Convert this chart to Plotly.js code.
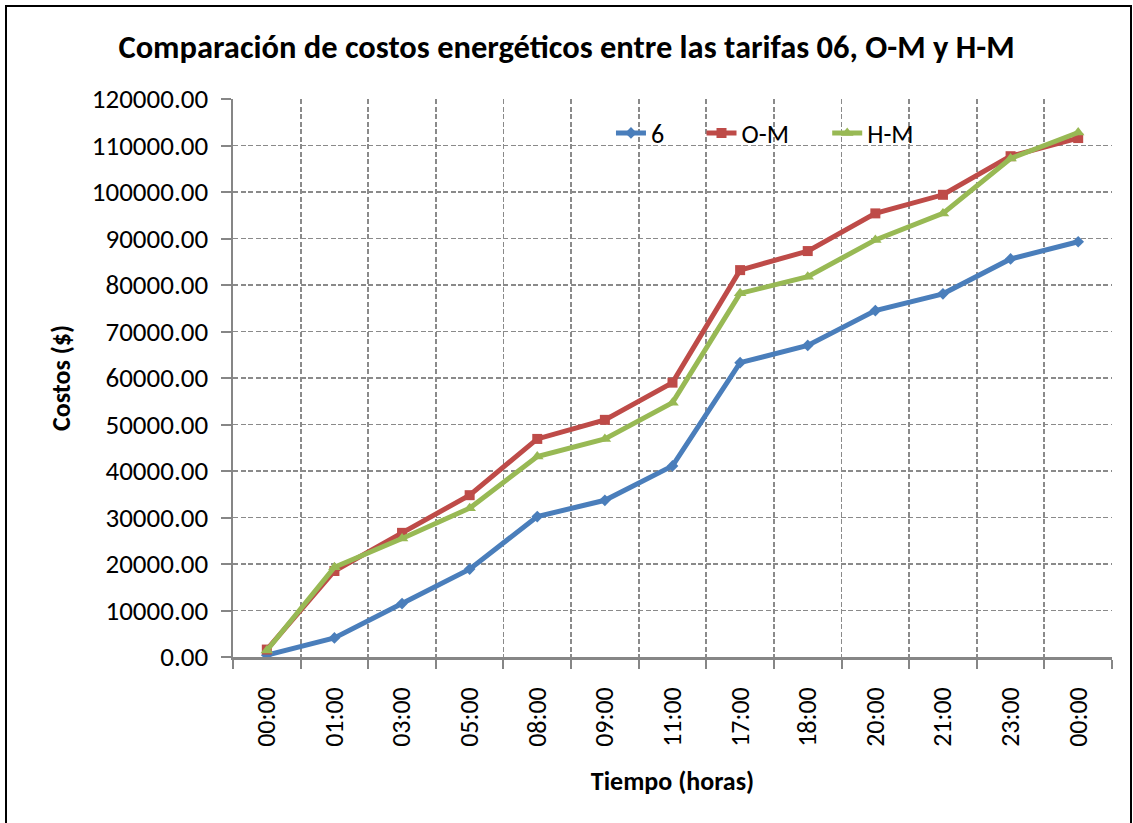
<!DOCTYPE html>
<html>
<head>
<meta charset="utf-8">
<script src="https://cdn.plot.ly/plotly-3.0.1.min.js"></script>
<style>
  html, body { margin: 0; padding: 0; background: #ffffff; }
  #wrap { position: relative; width: 1133px; height: 823px; overflow: hidden; }
  #chart { position: absolute; left: 0; top: 0; width: 1133px; height: 823px; }
  #frame { position: absolute; left: 5px; top: 5px; width: 1123px; height: 840px; border: 2px solid #000; pointer-events: none; }
</style>
</head>
<body>
<div id="wrap">
  <div id="chart"></div>
  <div id="frame"></div>
</div>
<script>
// Data
const categories = ["00:00", "01:00", "03:00", "05:00", "08:00", "09:00", "11:00", "17:00", "18:00", "20:00", "21:00", "23:00", "00:00"];
const tarifa06 = [400, 4100, 11500, 18900, 30200, 33700, 41100, 63300, 67000, 74500, 78100, 85600, 89300];
const tarifaOM = [1600, 18500, 26700, 34800, 46900, 51000, 59000, 83200, 87300, 95400, 99400, 107700, 111600];
const tarifaHM = [1400, 19300, 25500, 32000, 43100, 46900, 54700, 78200, 81800, 89700, 95400, 107200, 112800];
const seriesNames = ["6", "O-M", "H-M"];

const idx = categories.map((_, i) => i);
const boundaries = categories.map((_, i) => i - 0.5).concat([categories.length - 0.5]);

const FONT = "Carlito, Calibri, 'Liberation Sans Narrow', 'Liberation Sans', Arial, sans-serif";
const GRID = '#8a8a8a';
const AXIS = '#868686';

const traces = [
  { x: idx, y: tarifa06, name: seriesNames[0], legend: 'legend', type: 'scatter', mode: 'lines+markers',
    line: { color: '#4A7EBB', width: 5 }, marker: { symbol: 'diamond', size: 9, color: '#4A7EBB' } },
  { x: idx, y: tarifaOM, name: seriesNames[1], legend: 'legend2', type: 'scatter', mode: 'lines+markers',
    line: { color: '#BE4B48', width: 5 }, marker: { symbol: 'square', size: 10, color: '#BE4B48' } },
  { x: idx, y: tarifaHM, name: seriesNames[2], legend: 'legend3', type: 'scatter', mode: 'lines+markers',
    line: { color: '#98B954', width: 5 }, marker: { symbol: 'triangle-up', size: 11, color: '#98B954' } }
];

const legendBase = {
  orientation: 'h', xanchor: 'left', y: 0.939, yanchor: 'middle',
  bgcolor: 'rgba(0,0,0,0)', font: { family: FONT, size: 26, color: '#000' }
};

const layout = {
  width: 1133, height: 823,
  paper_bgcolor: '#ffffff', plot_bgcolor: '#ffffff',
  margin: { l: 233, r: 21, t: 99, b: 166 },
  font: { family: FONT, color: '#000000', size: 26 },
  title: { text: '<b>Comparación de costos energéticos entre las tarifas 06, O-M y H-M</b>',
           font: { family: FONT, size: 32.5, color: '#000' },
           x: 0.5, xref: 'container', xanchor: 'center', y: 0.943, yref: 'container', yanchor: 'middle' },
  xaxis: {
    range: [-0.5, categories.length - 0.5],
    tickmode: 'array', tickvals: boundaries, showticklabels: false,
    ticks: 'outside', ticklen: 9, tickcolor: AXIS, tickwidth: 2,
    showgrid: true, gridcolor: GRID, gridwidth: 1.8, griddash: '5px,2.5px',
    showline: true, linecolor: AXIS, linewidth: 2.5,
    zeroline: false, fixedrange: true
  },
  xaxis2: {
    overlaying: 'x', side: 'bottom', anchor: 'y',
    range: [-0.5, categories.length - 0.5],
    tickmode: 'array', tickvals: idx, ticktext: categories,
    tickangle: -90, ticks: '', ticklabelstandoff: 24, showgrid: false, showline: false, zeroline: false,
    tickfont: { family: FONT, size: 26, color: '#000' },
    title: { text: '<b>Tiempo (horas)</b>', font: { family: FONT, size: 26, color: '#000' }, standoff: 25 },
    automargin: false
  },
  yaxis: {
    range: [0, 120000], tickmode: 'linear', tick0: 0, dtick: 10000, tickformat: '.2f',
    ticks: 'outside', ticklen: 10, tickcolor: AXIS, tickwidth: 2, ticklabelstandoff: 7,
    showgrid: true, gridcolor: GRID, gridwidth: 1.8, griddash: '5px,2.5px',
    showline: true, linecolor: AXIS, linewidth: 2.5,
    zeroline: false, fixedrange: true,
    tickfont: { family: FONT, size: 27, color: '#000' },
    title: { text: '<b>Costos ($)</b>', font: { family: FONT, size: 26, color: '#000' }, standoff: 14 },
    automargin: false
  },
  showlegend: true,
  legend:  Object.assign({}, legendBase, { x: 0.4300 }),
  legend2: Object.assign({}, legendBase, { x: 0.5330 }),
  legend3: Object.assign({}, legendBase, { x: 0.6760 }),
  shapes: [
    // white legend box that hides the grid behind the legend entries
    { type: 'rect', xref: 'paper', yref: 'paper', x0: 0.3857, x1: 0.7895, y0: 0.896, y1: 0.984,
      fillcolor: '#ffffff', line: { width: 0 }, layer: 'between' }
  ]
};

// empty helper trace so the label axis (xaxis2) is drawn
traces.push({ x: idx, y: tarifa06.map(() => null), xaxis: 'x2', yaxis: 'y', showlegend: false, hoverinfo: 'skip', mode: 'lines' });

Plotly.newPlot('chart', traces, layout, { displayModeBar: false, staticPlot: true });
</script>
</body>
</html>
